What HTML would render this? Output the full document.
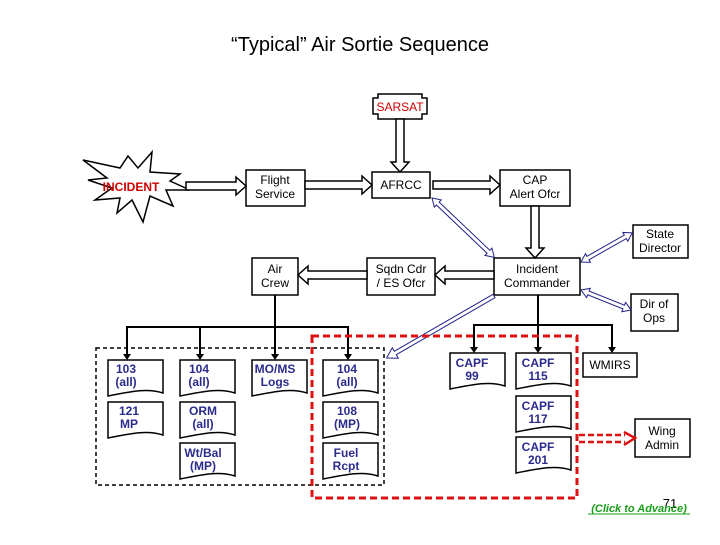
<!DOCTYPE html>
<html><head><meta charset="utf-8"><style>
body{margin:0;background:#fff;width:720px;height:540px;overflow:hidden}
svg text{font-family:"Liberation Sans",Arial,sans-serif}
.b{font-size:12px;fill:#000}
.d{font-size:12px;fill:#2b2b8c;font-weight:bold}
</style></head><body>
<svg width="720" height="540" viewBox="0 0 720 540" xmlns="http://www.w3.org/2000/svg">
<text x="360" y="51" text-anchor="middle" font-size="20" fill="#000">“Typical” Air Sortie Sequence</text>
<!-- SARSAT -->
<polygon points="378,94 422,94 422,98 427,98 427,114 422,114 422,119 378,119 378,114 373,114 373,98 378,98" fill="#fff" stroke="#000" stroke-width="1.5"/>
<text x="400" y="111" text-anchor="middle" font-size="12" fill="#c00">SARSAT</text>
<!-- starburst -->
<polygon points="83,160 120,168 128,156 138,168 152,152 150,172 180,174 170,181 190,190 166,190 173,206 150,196 143,222 132,200 117,213 120,198 95,200 112,188 88,180 107,178" fill="#fff" stroke="#000" stroke-width="1.5"/>
<text x="131" y="191" text-anchor="middle" font-size="12" font-weight="bold" fill="#c00">INCIDENT</text>
<!-- boxes -->
<g fill="#fff" stroke="#000" stroke-width="1.5">
<rect x="246" y="170" width="59" height="36"/>
<rect x="372" y="172" width="58" height="26"/>
<rect x="500" y="170" width="70" height="36"/>
<rect x="633" y="225" width="55" height="33"/>
<rect x="494" y="258" width="86" height="37"/>
<rect x="367" y="258" width="68" height="37"/>
<rect x="252" y="258" width="46" height="37"/>
<rect x="631" y="294" width="47" height="37"/>
<rect x="583" y="353" width="54" height="24"/>
<rect x="635" y="419" width="55" height="38"/>
</g>
<g class="b" text-anchor="middle">
<text class="b" x="275" y="184">Flight</text><text class="b" x="275" y="198">Service</text>
<text class="b" x="401" y="189">AFRCC</text>
<text class="b" x="535" y="184">CAP</text><text class="b" x="535" y="198">Alert Ofcr</text>
<text class="b" x="660" y="238">State</text><text class="b" x="660" y="252">Director</text>
<text class="b" x="537" y="273">Incident</text><text class="b" x="537" y="287">Commander</text>
<text class="b" x="401" y="273">Sqdn Cdr</text><text class="b" x="401" y="287">/ ES Ofcr</text>
<text class="b" x="275" y="273">Air</text><text class="b" x="275" y="287">Crew</text>
<text class="b" x="654" y="308">Dir of</text><text class="b" x="654" y="322">Ops</text>
<text class="b" x="610" y="369">WMIRS</text>
<text class="b" x="662" y="435">Wing</text><text class="b" x="662" y="449">Admin</text>
</g>
<!-- hollow arrows -->
<g fill="#fff" stroke="#000" stroke-width="1.5">
<polygon points="186,182 236,182 236,177 246,186 236,195 236,190 186,190"/>
<polygon points="305,181 362,181 362,176 372,185 362,194 362,189 305,189"/>
<polygon points="433,181 490,181 490,176 500,185 490,194 490,189 433,189"/>
<polygon points="396,119 396,162 391,162 400,172 409,162 404,162 404,119"/>
<polygon points="531,206 531,248 526,248 535,258 544,248 539,248 539,206"/>
<polygon points="494,271 445,271 445,266 435,275 445,284 445,279 494,279"/>
<polygon points="367,271 308,271 308,266 298,275 308,284 308,279 367,279"/>
</g>
<!-- blue double arrows -->
<g fill="#fff" stroke="#22228a" stroke-width="1">
<g transform="translate(432,198) rotate(43.6)"><polygon points="0,0 8,-5 8,-2 78,-2 78,-5 86,0 78,5 78,2 8,2 8,5"/></g>
<g transform="translate(581,262) rotate(-29.6)"><polygon points="0,0 8,-5 8,-2 51,-2 51,-5 59,0 51,5 51,2 8,2 8,5"/></g>
<g transform="translate(581,290) rotate(21.8)"><polygon points="0,0 8,-5 8,-2 46,-2 46,-5 54,0 46,5 46,2 8,2 8,5"/></g>
<g transform="translate(494,296) rotate(150)"><polygon points="0,-2 114,-2 114,-6 124,0 114,6 114,2 0,2"/></g>
</g>
<!-- tree lines -->
<g stroke="#000" stroke-width="2" fill="none">
<path d="M275,295 V327 M127,356 V327 H348 V356 M200,327 V356 M275,327 V356"/>
<path d="M538,295 V325 M474,349 V325 H612 V349 M538,325 V349"/>
</g>
<g fill="#000">
<polygon points="123,354 131,354 127,360"/><polygon points="196,354 204,354 200,360"/>
<polygon points="271,354 279,354 275,360"/><polygon points="344,354 352,354 348,360"/>
<polygon points="470,347 478,347 474,353"/><polygon points="534,347 542,347 538,353"/>
<polygon points="608,347 616,347 612,353"/>
</g>
<!-- dashed boxes -->
<rect x="96" y="348" width="288" height="137" fill="none" stroke="#000" stroke-width="1.5" stroke-dasharray="4,3"/>
<rect x="312" y="336" width="265" height="162" fill="none" stroke="#d11" stroke-width="3" stroke-dasharray="7,4"/>
<path d="M579,435 H625 M579,442 H625" stroke="#d11" stroke-width="2.5" stroke-dasharray="6,3"/>
<polyline points="624,432 635,438 624,445" fill="none" stroke="#d11" stroke-width="2.5"/>
<!-- documents -->
<defs><path id="doc" d="M0,0 H55 V33 C40,28 25,31 0,36 Z" fill="#fff" stroke="#000" stroke-width="1.5"/></defs>
<g>
<use href="#doc" x="108" y="360"/><use href="#doc" x="180" y="360"/><use href="#doc" x="252" y="360"/><use href="#doc" x="323" y="360"/>
<use href="#doc" x="108" y="402"/><use href="#doc" x="180" y="402"/><use href="#doc" x="323" y="402"/>
<use href="#doc" x="180" y="443"/><use href="#doc" x="323" y="443"/>
<use href="#doc" x="450" y="353"/><use href="#doc" x="516" y="353"/><use href="#doc" x="516" y="396"/><use href="#doc" x="516" y="437"/>
</g>
<g text-anchor="middle">
<text class="d" x="126" y="373">103</text><text class="d" x="126" y="386">(all)</text>
<text class="d" x="199" y="373">104</text><text class="d" x="199" y="386">(all)</text>
<text class="d" x="275" y="373">MO/MS</text><text class="d" x="275" y="386">Logs</text>
<text class="d" x="347" y="373">104</text><text class="d" x="347" y="386">(all)</text>
<text class="d" x="129" y="415">121</text><text class="d" x="129" y="428">MP</text>
<text class="d" x="203" y="415">ORM</text><text class="d" x="203" y="428">(all)</text>
<text class="d" x="347" y="415">108</text><text class="d" x="347" y="428">(MP)</text>
<text class="d" x="203" y="457">Wt/Bal</text><text class="d" x="203" y="470">(MP)</text>
<text class="d" x="346" y="457">Fuel</text><text class="d" x="346" y="470">Rcpt</text>
<text class="d" x="472" y="367">CAPF</text><text class="d" x="472" y="380">99</text>
<text class="d" x="538" y="367">CAPF</text><text class="d" x="538" y="380">115</text>
<text class="d" x="538" y="410">CAPF</text><text class="d" x="538" y="423">117</text>
<text class="d" x="538" y="451">CAPF</text><text class="d" x="538" y="464">201</text>
</g>
<text x="670" y="508" text-anchor="middle" font-size="13" fill="#000">71</text>
<text x="639" y="512" text-anchor="middle" font-size="11" font-style="italic" font-weight="bold" fill="#1a9e1a">(Click to Advance)</text>
<line x1="588" y1="514" x2="690" y2="514" stroke="#1a9e1a" stroke-width="1"/>
</svg>
</body></html>
